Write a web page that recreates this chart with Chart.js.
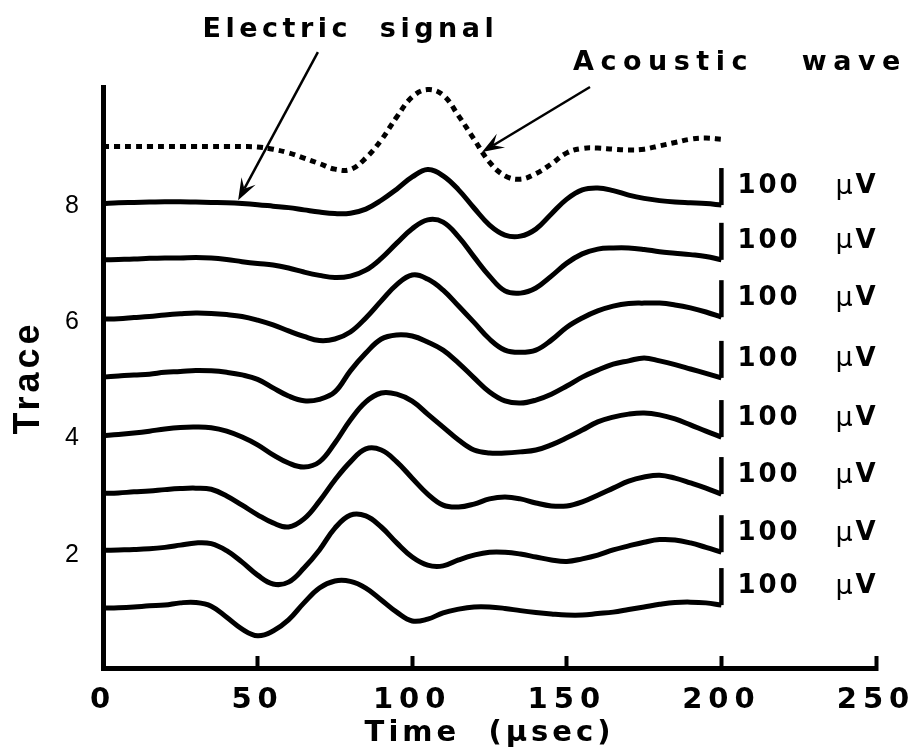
<!DOCTYPE html>
<html>
<head>
<meta charset="utf-8">
<script src="https://cdn.jsdelivr.net/npm/chart.js@4.4.1/dist/chart.umd.min.js"></script>
<style>
  html, body { margin: 0; padding: 0; background: #fff; }
  #wrap { width: 924px; height: 755px; position: relative; }
</style>
</head>
<body>
<div id="wrap"><canvas id="traceChart"></canvas></div>
<script>
// sample times along each record (µs)
const TIME = [0, 5, 10, 15, 20, 25, 30, 35, 40, 45, 50, 55, 60, 65, 70, 75, 80, 85, 90, 95,
              100, 105, 110, 115, 120, 125, 130, 135, 140, 145, 150, 155, 160, 165, 170, 175, 180, 185, 190, 195, 200];

// deviation from each trace's baseline, in µV
const ACOUSTIC = [-4, -4, -4, -4, -4, -4, -4, -4, -4, -4, -5, -11, -21, -35, -50, -65, -66, -35, 14, 76,
                  130, 150, 135, 79, 16, -46, -83, -92, -77, -51, -21, -9, -8, -11, -13, -11, -2, 7, 16, 19, 16];
const TRACE_8 = [-1, 1, 2, 3, 4, 4, 3, 2, 1, -1, -4, -8, -12, -18, -24, -28, -27, -16, 8, 38,
                 71, 91, 74, 36, -13, -59, -86, -89, -70, -29, 11, 36, 41, 34, 22, 13, 7, 3, 1, -1, -5];
const TRACE_7 = [4, 5, 6, 8, 9, 9, 10, 9, 5, -1, -6, -10, -18, -29, -38, -44, -40, -24, 8, 49,
                 88, 112, 106, 66, 12, -40, -80, -86, -72, -40, -5, 20, 33, 36, 36, 32, 26, 22, 18, 13, 4];
const TRACE_6 = [1, 2, 5, 8, 12, 15, 17, 16, 13, 8, -2, -15, -31, -46, -57, -53, -34, 4, 50, 94,
                 120, 109, 79, 36, -8, -53, -83, -89, -83, -56, -21, 4, 23, 36, 43, 44, 44, 39, 31, 20, 6];
const TRACE_5 = [1, 4, 7, 9, 14, 16, 19, 18, 14, 7, -5, -28, -50, -63, -59, -39, 18, 66, 104, 115,
                 112, 96, 74, 39, -1, -39, -63, -69, -61, -45, -23, 1, 20, 36, 45, 53, 45, 35, 23, 11, -1];
const TRACE_4 = [0, 3, 7, 12, 18, 22, 23, 21, 12, -4, -25, -52, -74, -85, -71, -20, 42, 91, 115, 112,
                 93, 58, 23, -12, -39, -47, -47, -44, -39, -25, -6, 15, 37, 50, 58, 61, 56, 45, 29, 12, -4];
const TRACE_3 = [1, 2, 5, 7, 11, 14, 15, 12, -6, -31, -57, -79, -90, -68, -20, 37, 86, 121, 118, 86,
                 42, -1, -31, -36, -28, -14, -9, -14, -25, -33, -33, -22, -4, 15, 34, 45, 50, 42, 29, 15, -1];
const TRACE_2 = [4, 5, 6, 8, 12, 18, 24, 22, 3, -28, -63, -87, -82, -44, 5, 64, 99, 97, 67, 24,
                 -14, -36, -38, -22, -9, -1, -1, -6, -14, -22, -26, -19, -9, 5, 16, 26, 33, 32, 24, 12, -1];
const TRACE_1 = [5, 6, 8, 11, 13, 19, 20, 10, -20, -52, -70, -57, -27, 19, 59, 78, 77, 59, 27, -6,
                 -30, -25, -8, 2, 8, 8, 4, -2, -7, -11, -14, -14, -10, -6, 1, 8, 15, 20, 21, 19, 13];

const TRACES = [TRACE_1, TRACE_2, TRACE_3, TRACE_4, TRACE_5, TRACE_6, TRACE_7, TRACE_8];
const ACOUSTIC_ROW = 9;
const X_TICKS = [0, 50, 100, 150, 200, 250];
const Y_TICKS = [2, 4, 6, 8];
const SCALE_BAR_UV = 100;
const SCALE_BAR_VALUE = '100';
const SCALE_BAR_UNIT = ['µ', 'V'];
const UV_PER_TRACE = 157;   // 100 µV bar is ~0.64 of a trace step

// annotation text + arrows, in data coordinates
const NOTES = [
    { text: 'Electric  signal', at: [80, 10.98], from: [69.5, 10.6], to: [43.7, 8.05], spacing: '4.5px' },
    { text: 'Acoustic   wave',  at: [206, 10.41], from: [157.5, 10.0], to: [122.6, 8.88], spacing: '6.5px' }
];

const BOLD_FONT = '"DejaVu Sans", "Liberation Sans", sans-serif';
const TITLE_FONT = '"Liberation Sans", Arial, sans-serif';

function toPoints(values, row) {
    return TIME.map((t, i) => ({ x: t, y: row + values[i] / UV_PER_TRACE }));
}

const datasets = [];
datasets.push({
    data: toPoints(ACOUSTIC, ACOUSTIC_ROW),
    borderColor: '#000',
    borderWidth: 5,
    borderDash: [6, 5],
    borderCapStyle: 'butt',
    tension: 0.4,
    pointRadius: 0,
    clip: false
});
TRACES.forEach((vals, i) => {
    datasets.push({
        data: toPoints(vals, i + 1),
        borderColor: '#000',
        borderWidth: 5,
        tension: 0.4,
        pointRadius: 0,
        clip: false
    });
});
// 100 µV scale bars at the end of every trace
TRACES.forEach((vals, i) => {
    const last = vals[vals.length - 1];
    const tEnd = TIME[TIME.length - 1];
    datasets.push({
        data: [
            { x: tEnd, y: i + 1 + last / UV_PER_TRACE },
            { x: tEnd, y: i + 1 + (last + SCALE_BAR_UV) / UV_PER_TRACE }
        ],
        borderColor: '#000',
        borderWidth: 4.5,
        tension: 0,
        pointRadius: 0,
        clip: false
    });
});

function drawArrow(ctx, x0, y0, x1, y1) {
    const ang = Math.atan2(y1 - y0, x1 - x0);
    const c = Math.cos(ang), s = Math.sin(ang);
    const len = 22, half = 8;
    ctx.lineWidth = 2.5;
    ctx.beginPath();
    ctx.moveTo(x0, y0);
    ctx.lineTo(x1 - c * len * 0.6, y1 - s * len * 0.6);
    ctx.stroke();
    ctx.beginPath();
    ctx.moveTo(x1, y1);
    ctx.lineTo(x1 - c * len + s * half, y1 - s * len - c * half);
    ctx.lineTo(x1 - c * len * 0.6, y1 - s * len * 0.6);
    ctx.lineTo(x1 - c * len - s * half, y1 - s * len + c * half);
    ctx.closePath();
    ctx.fill();
}

// letter spacing for axis text + the free annotations
const notesPlugin = {
    id: 'notes',
    beforeDraw(chart) {
        chart.ctx.letterSpacing = '4px';
    },
    afterDatasetsDraw(chart) {
        // x tick labels are drawn after the datasets (ticks.z = 1)
        chart.ctx.letterSpacing = '6px';
    },
    afterDraw(chart) {
        const { ctx, scales: { x, y } } = chart;
        ctx.save();
        ctx.fillStyle = '#000';
        ctx.strokeStyle = '#000';
        ctx.font = 'bold 27px ' + BOLD_FONT;
        ctx.textBaseline = 'middle';

        ctx.textAlign = 'center';
        NOTES.forEach(n => {
            ctx.letterSpacing = n.spacing;
            ctx.fillText(n.text, x.getPixelForValue(n.at[0]), y.getPixelForValue(n.at[1]));
            drawArrow(ctx,
                x.getPixelForValue(n.from[0]), y.getPixelForValue(n.from[1]),
                x.getPixelForValue(n.to[0]), y.getPixelForValue(n.to[1]));
        });

        // "100  µV" next to each bar; the µ is a lighter glyph in the original
        ctx.letterSpacing = '3px';
        ctx.textAlign = 'left';
        const tEnd = TIME[TIME.length - 1];
        const left = x.getPixelForValue(tEnd) + 16;
        TRACES.forEach((vals, i) => {
            const last = vals[vals.length - 1];
            const py = y.getPixelForValue(i + 1 + (last + SCALE_BAR_UV / 2) / UV_PER_TRACE);
            ctx.font = 'bold 26px ' + BOLD_FONT;
            ctx.fillText(SCALE_BAR_VALUE, left, py);
            ctx.font = '27px ' + BOLD_FONT;
            ctx.fillText(SCALE_BAR_UNIT[0], left + 98, py);
            ctx.font = 'bold 26px ' + BOLD_FONT;
            ctx.fillText(SCALE_BAR_UNIT[1], left + 118, py);
        });
        ctx.restore();
        ctx.letterSpacing = '0px';
    }
};

new Chart(document.getElementById('traceChart'), {
    type: 'line',
    data: { datasets: datasets },
    plugins: [notesPlugin],
    options: {
        responsive: true,
        maintainAspectRatio: false,
        animation: false,
        layout: { padding: { top: 87, right: 48, left: 0, bottom: 0 } },
        plugins: {
            legend: { display: false },
            tooltip: { enabled: false }
        },
        elements: { point: { radius: 0 } },
        scales: {
            x: {
                type: 'linear',
                min: 0,
                max: 250,
                afterBuildTicks: s => { s.ticks = X_TICKS.map(v => ({ value: v })); },
                afterFit: s => {
                    s.height = 87;
                    // the big tick padding should not shrink the plot sideways
                    s.paddingLeft = 0;
                    s.paddingRight = 0;
                },
                grid: {
                    drawOnChartArea: false,
                    drawTicks: true,
                    tickLength: -12,
                    tickWidth: 4,
                    tickColor: '#000'
                },
                border: { display: true, color: '#000', width: 5 },
                ticks: {
                    z: 1,
                    padding: 27,
                    color: '#000',
                    autoSkip: false,
                    maxRotation: 0,
                    font: { family: BOLD_FONT, size: 29, weight: 'bold', lineHeight: 1.2 }
                },
                title: {
                    display: true,
                    text: 'Time  (µsec)',
                    color: '#000',
                    font: { family: BOLD_FONT, size: 29, weight: 'bold', lineHeight: 1.2 },
                    padding: { top: 0, bottom: 4 }
                }
            },
            y: {
                type: 'linear',
                min: 0,
                max: 10,
                afterBuildTicks: s => { s.ticks = Y_TICKS.map(v => ({ value: v })); },
                afterFit: s => { s.width = 103; },
                grid: { display: false },
                border: { display: true, color: '#000', width: 5 },
                ticks: {
                    padding: 12,
                    labelOffset: 3,
                    color: '#000',
                    font: { family: TITLE_FONT, size: 25 }
                },
                title: {
                    display: true,
                    text: 'Trace',
                    color: '#000',
                    font: { family: TITLE_FONT, size: 36, weight: 'bold', lineHeight: 1.2 },
                    padding: { top: 7, bottom: 0 }
                }
            }
        }
    }
});
</script>
</body>
</html>
